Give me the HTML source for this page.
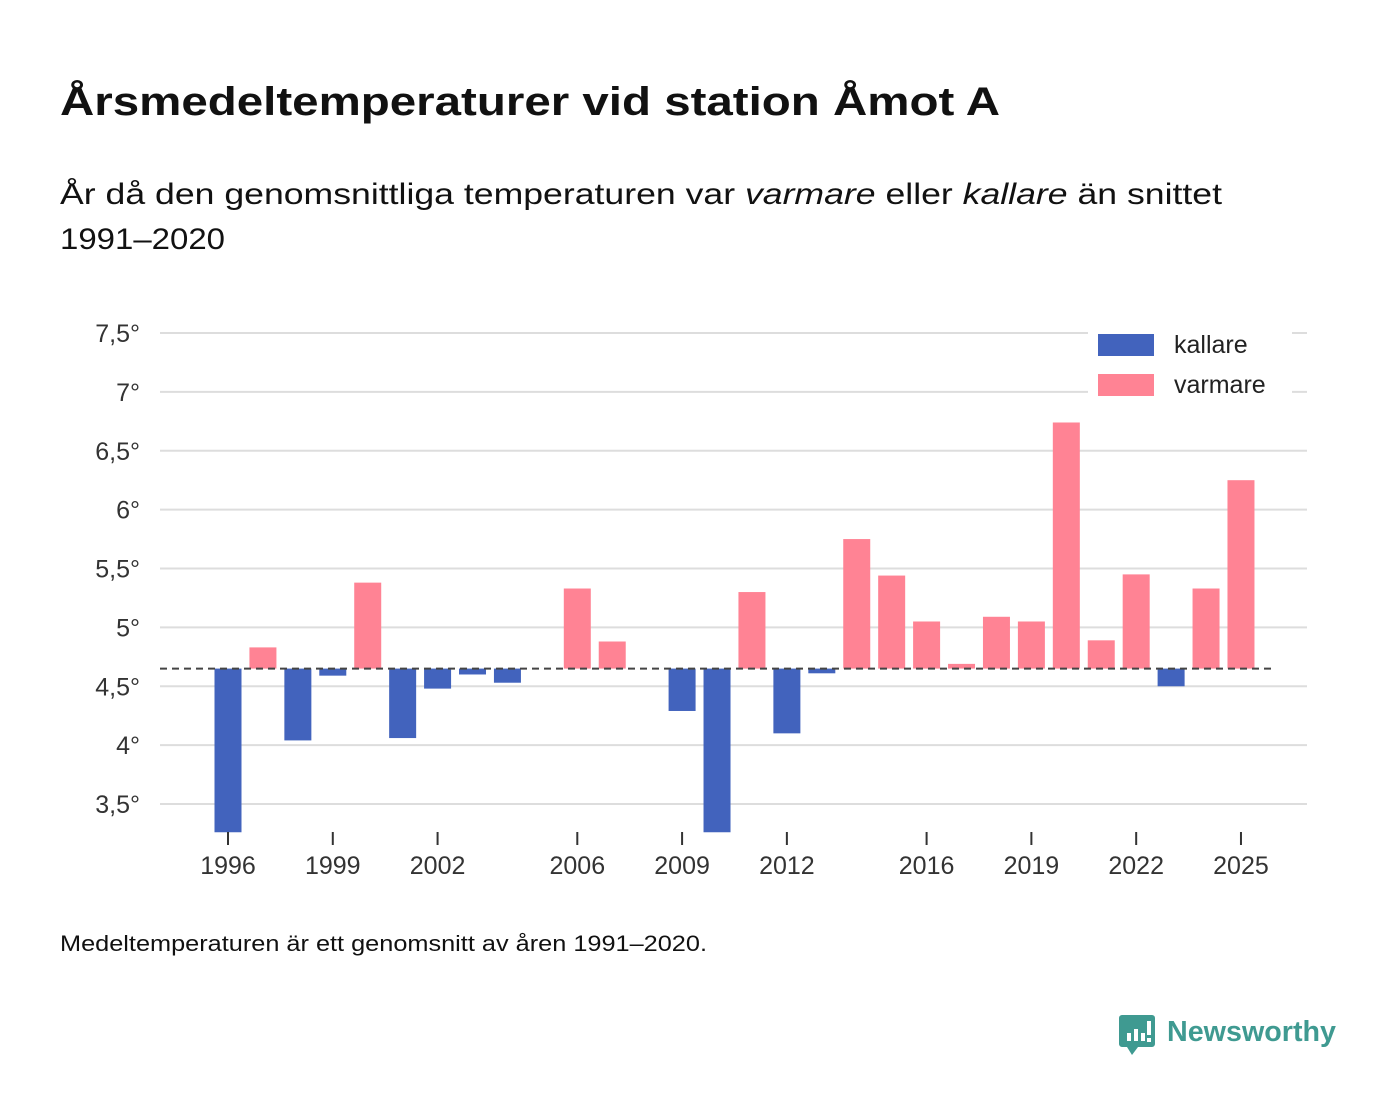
<!DOCTYPE html>
<html><head><meta charset="utf-8"><style>
body{margin:0;background:#fff}
svg{display:block;font-family:"Liberation Sans","DejaVu Sans",sans-serif}
</style></head><body>
<svg id="chart" width="1400" height="1116" viewBox="0 0 1400 1116" xmlns="http://www.w3.org/2000/svg">
<text x="60" y="115" font-size="40" font-weight="bold" fill="#111" textLength="940" lengthAdjust="spacingAndGlyphs">Årsmedeltemperaturer vid station Åmot A</text>
<text x="60" y="204" font-size="30" fill="#111" textLength="1162" lengthAdjust="spacingAndGlyphs">År då den genomsnittliga temperaturen var <tspan font-style="italic">varmare</tspan> eller <tspan font-style="italic">kallare</tspan> än snittet</text>
<text x="60" y="249" font-size="30" fill="#111" textLength="165" lengthAdjust="spacingAndGlyphs">1991–2020</text>
<g id="grid"></g><g id="bars"></g><g id="xaxis"></g>
<line id="avg" x1="160" x2="1276" stroke="#444" stroke-width="2" stroke-dasharray="7,5"/>
<g>
<rect x="1088" y="324" width="204" height="78" fill="#fff"/>
<rect x="1098" y="334" width="56" height="22" fill="#4263bd"/>
<text x="1174" y="353" font-size="25" fill="#222">kallare</text>
<rect x="1098" y="374" width="56" height="22" fill="#ff8394"/>
<text x="1174" y="393" font-size="25" fill="#222">varmare</text>
</g>
<text x="60" y="951" font-size="22" fill="#111" textLength="647" lengthAdjust="spacingAndGlyphs">Medeltemperaturen är ett genomsnitt av åren 1991–2020.</text>
<g>
<path d="M1122 1015 h30 a3 3 0 0 1 3 3 v26 a3 3 0 0 1 -3 3 h-14 l-6 8 l-5 -8 h-5 a3 3 0 0 1 -3 -3 v-26 a3 3 0 0 1 3 -3z" fill="#3f9a91"/>
<rect x="1127" y="1033" width="4" height="8" fill="#fff"/><rect x="1134" y="1029" width="4" height="12" fill="#fff"/><rect x="1141" y="1033" width="4" height="8" fill="#fff"/><rect x="1147" y="1021" width="4" height="14" fill="#fff"/><rect x="1147" y="1038" width="4" height="4" fill="#fff"/>
<text x="1167" y="1041" font-size="29" font-weight="bold" fill="#3f9a91" textLength="169" lengthAdjust="spacingAndGlyphs">Newsworthy</text>
</g>
</svg>
<script>
const years=[1996,1997,1998,1999,2000,2001,2002,2003,2004,2006,2007,2009,2010,2011,2012,2013,2014,2015,2016,2017,2018,2019,2020,2021,2022,2023,2024,2025];
const temps=[3.26,4.83,4.04,4.59,5.38,4.06,4.48,4.60,4.53,5.33,4.88,4.29,3.26,5.30,4.10,4.61,5.75,5.44,5.05,4.69,5.09,5.05,6.74,4.89,5.45,4.50,5.33,6.25];
const average=4.65;
const yTicks=[3.5,4,4.5,5,5.5,6,6.5,7,7.5];
const yTickLabels=["3,5°","4°","4,5°","5°","5,5°","6°","6,5°","7°","7,5°"];
const xTicks=[1996,1999,2002,2006,2009,2012,2016,2019,2022,2025];
const NS="http://www.w3.org/2000/svg";
const yMin=3.26,yMax=7.5;
function y(v){return 333+(yMax-v)*117.75;}
function x(yr){return 228+(yr-1996)*34.93;}
function mk(t,a,p){const e=document.createElementNS(NS,t);for(const k in a)e.setAttribute(k,a[k]);p.appendChild(e);return e;}
const grid=document.getElementById('grid'),bars=document.getElementById('bars'),xa=document.getElementById('xaxis');
yTicks.forEach((v,i)=>{
 const l=mk('line',{x1:160,x2:1307,y1:y(v),y2:y(v),stroke:'#ddd','stroke-width':2},grid);
 
 
 const t=mk('text',{x:140,y:y(v)+9,'text-anchor':'end','font-size':25,fill:'#333'},grid);
 t.textContent=yTickLabels[i];
 
 
});
years.forEach((yr,i)=>{
 const v=Math.max(temps[i],yMin);
 const top=y(Math.max(v,average)),bot=y(Math.min(v,average));
 const r=mk('rect',{x:x(yr)-13.5,y:top,width:27,height:Math.max(bot-top,0.5),fill:temps[i]>average?'#ff8394':'#4263bd'},bars);
 
 
});
xTicks.forEach(yr=>{
 const l=mk('line',{x1:x(yr),x2:x(yr),y1:832,y2:845,stroke:'#333','stroke-width':2},xa);
 
 
 const t=mk('text',{x:x(yr),y:874,'text-anchor':'middle','font-size':25,fill:'#333'},xa);
 t.textContent=yr;
 
 
});
const avg=document.getElementById('avg');avg.setAttribute('y1',y(average));avg.setAttribute('y2',y(average));
</script>
</body></html>
